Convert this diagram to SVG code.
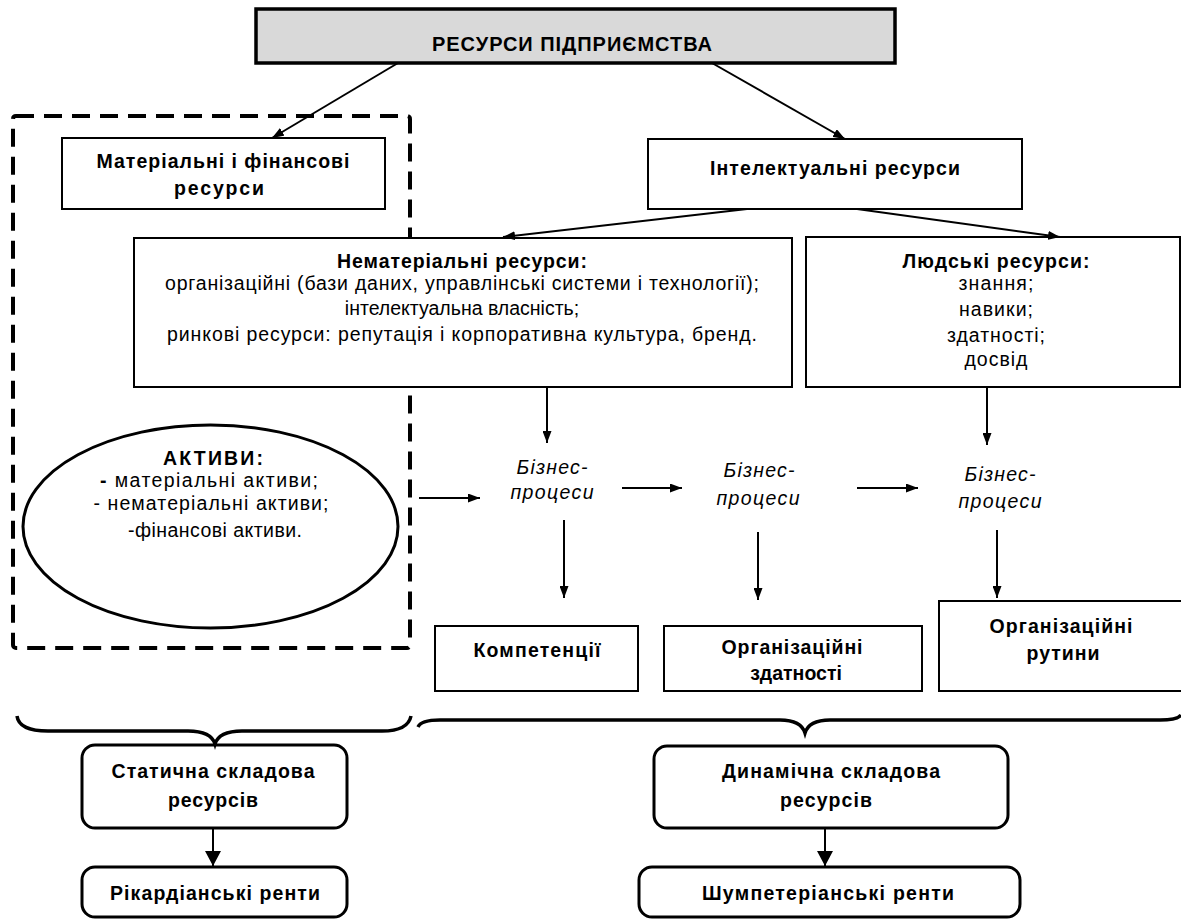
<svg xmlns="http://www.w3.org/2000/svg" width="1181" height="919" viewBox="0 0 1181 919">
<style>
text{font-family:"Liberation Sans",Arial,sans-serif;font-size:19.5px;fill:#000;text-anchor:middle}
.b{font-weight:bold}
.i{font-style:italic}
.t{font-size:20px}
.box{fill:#fff;stroke:#000;stroke-width:2}
.rbox{fill:#fff;stroke:#000;stroke-width:3}
.con{stroke:#000;stroke-width:2;fill:none}
.brace{stroke:#000;stroke-width:3.5;fill:none}
</style>
<defs>
<marker id="ah" markerWidth="12" markerHeight="9" refX="12" refY="4.5" orient="auto" markerUnits="userSpaceOnUse"><path d="M0,0 L12,4.5 L0,9 z" fill="#000"/></marker>
<marker id="ahb" markerWidth="15" markerHeight="16" refX="15" refY="8" orient="auto" markerUnits="userSpaceOnUse"><path d="M0,0 L15,8 L0,16 z" fill="#000"/></marker>
</defs>

<rect id="static-frame" x="13" y="116" width="397" height="532" rx="3" fill="none" stroke="#000" stroke-width="4" stroke-dasharray="18 10"/>

<g id="top">
<rect x="256" y="9" width="639" height="54" fill="#d9d9d9" stroke="#000" stroke-width="3.5"/>
<text class="b t" x="572" y="51" textLength="280" lengthAdjust="spacing">РЕСУРСИ ПІДПРИЄМСТВА</text>
</g>

<g id="material">
<rect class="box" x="62" y="138" width="323" height="71"/>
<text class="b" x="223" y="168" textLength="253" lengthAdjust="spacing">Матеріальні і фінансові</text>
<text class="b" x="219" y="195" textLength="90" lengthAdjust="spacing">ресурси</text>
</g>

<g id="intellectual">
<rect class="box" x="648" y="139" width="374" height="70"/>
<text class="b" x="835" y="175" textLength="250" lengthAdjust="spacing">Інтелектуальні ресурси</text>
</g>

<g id="intangible">
<rect class="box" x="134" y="238" width="658" height="149"/>
<text class="b" x="462" y="268" textLength="250" lengthAdjust="spacing">Нематеріальні ресурси:</text>
<text x="462" y="290" textLength="594" lengthAdjust="spacing">організаційні (бази даних, управлінські системи і технології);</text>
<text x="462" y="315">інтелектуальна власність;</text>
<text x="462" y="341" textLength="590" lengthAdjust="spacing">ринкові ресурси: репутація і корпоративна культура, бренд.</text>
</g>

<g id="human">
<rect class="box" x="806" y="237" width="374" height="150"/>
<text class="b" x="996" y="268" textLength="187" lengthAdjust="spacing">Людські ресурси:</text>
<text x="996" y="290" textLength="75" lengthAdjust="spacing">знання;</text>
<text x="996" y="316" textLength="74" lengthAdjust="spacing">навики;</text>
<text x="996" y="342" textLength="98" lengthAdjust="spacing">здатності;</text>
<text x="996" y="366" textLength="63" lengthAdjust="spacing">досвід</text>
</g>

<g id="assets">
<ellipse cx="210.5" cy="526.5" rx="187.5" ry="101.5" fill="#fff" stroke="#000" stroke-width="3"/>
<text class="b" x="213" y="465" textLength="100" lengthAdjust="spacing">АКТИВИ:</text>
<text x="209" y="487" textLength="218" lengthAdjust="spacing"><tspan class="b">-</tspan> матеріальні активи;</text>
<text x="211" y="510" textLength="235" lengthAdjust="spacing">- нематеріальні активи;</text>
<text x="215" y="537" textLength="174" lengthAdjust="spacing">-фінансові активи.</text>
</g>

<g id="bp1">
<text class="i" x="552" y="474" textLength="71" lengthAdjust="spacing">Бізнес-</text>
<text class="i" x="552" y="499" textLength="83" lengthAdjust="spacing">процеси</text>
</g>
<g id="bp2">
<text class="i" x="759" y="477" textLength="71" lengthAdjust="spacing">Бізнес-</text>
<text class="i" x="758" y="505" textLength="83" lengthAdjust="spacing">процеси</text>
</g>
<g id="bp3">
<text class="i" x="1000" y="481" textLength="71" lengthAdjust="spacing">Бізнес-</text>
<text class="i" x="1000" y="508" textLength="83" lengthAdjust="spacing">процеси</text>
</g>

<g id="competences">
<rect class="box" x="435" y="626" width="203" height="65"/>
<text class="b" x="537" y="657" textLength="127" lengthAdjust="spacing">Компетенції</text>
</g>
<g id="capabilities">
<rect class="box" x="664" y="626" width="258" height="65"/>
<text class="b" x="792" y="654" textLength="141" lengthAdjust="spacing">Організаційні</text>
<text class="b" x="796" y="680">здатності</text>
</g>
<g id="routines">
<rect class="box" x="939" y="601" width="243" height="90"/>
<text class="b" x="1061" y="633" textLength="143" lengthAdjust="spacing">Організаційні</text>
<text class="b" x="1063" y="660" textLength="73" lengthAdjust="spacing">рутини</text>
</g>

<g id="static">
<rect class="rbox" x="82" y="745" width="265" height="83" rx="13"/>
<text class="b" x="213" y="778" textLength="203" lengthAdjust="spacing">Статична складова</text>
<text class="b" x="213" y="807" textLength="90" lengthAdjust="spacing">ресурсів</text>
</g>
<g id="ricardian">
<rect class="rbox" x="82" y="867" width="265" height="50" rx="13"/>
<text class="b" x="215" y="900" textLength="210" lengthAdjust="spacing">Рікардіанські ренти</text>
</g>
<g id="dynamic">
<rect class="rbox" x="654" y="746" width="354" height="82" rx="13"/>
<text class="b" x="831" y="778" textLength="218" lengthAdjust="spacing">Динамічна складова</text>
<text class="b" x="826" y="807" textLength="92" lengthAdjust="spacing">ресурсів</text>
</g>
<g id="schumpeterian">
<rect class="rbox" x="639" y="867" width="381" height="50" rx="13"/>
<text class="b" x="828" y="900" textLength="252" lengthAdjust="spacing">Шумпетеріанські ренти</text>
</g>

<g id="connectors">
<line class="con" x1="398" y1="63" x2="272" y2="138" marker-end="url(#ah)"/>
<line class="con" x1="712" y1="63" x2="845" y2="139" marker-end="url(#ah)"/>
<line class="con" x1="747" y1="209" x2="503" y2="237" marker-end="url(#ah)"/>
<line class="con" x1="857" y1="209" x2="1060" y2="237" marker-end="url(#ah)"/>
<line class="con" x1="547" y1="387" x2="547" y2="443" marker-end="url(#ah)"/>
<line class="con" x1="987" y1="387" x2="987" y2="445" marker-end="url(#ah)"/>
<line class="con" x1="419" y1="498" x2="480" y2="498" marker-end="url(#ah)"/>
<line class="con" x1="622" y1="488" x2="682" y2="488" marker-end="url(#ah)"/>
<line class="con" x1="857" y1="488" x2="918" y2="488" marker-end="url(#ah)"/>
<line class="con" x1="564" y1="520" x2="564" y2="598" marker-end="url(#ah)"/>
<line class="con" x1="758" y1="532" x2="758" y2="600" marker-end="url(#ah)"/>
<line class="con" x1="997" y1="530" x2="997" y2="598" marker-end="url(#ah)"/>
<line class="con" x1="213" y1="828" x2="213" y2="866" stroke-width="2.5" marker-end="url(#ahb)"/>
<line class="con" x1="825" y1="828" x2="825" y2="866" stroke-width="2.5" marker-end="url(#ahb)"/>
<path class="brace" d="M17 716 Q19 731 48 731 L188 731 Q211 731 215 744 Q219 731 242 731 L382 731 Q408 731 411 716"/>
<path class="brace" d="M418 727 Q421 720 440 720 L780 720 Q801 720 805 733 Q809 720 830 720 L1160 720 Q1177 720 1181 715"/>
</g>
</svg>
